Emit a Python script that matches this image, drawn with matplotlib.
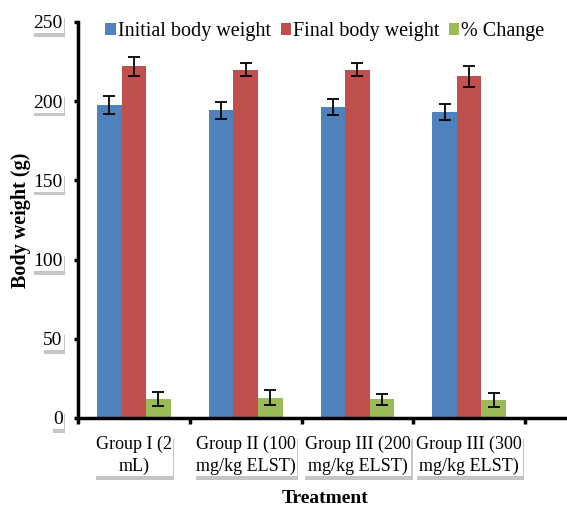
import numpy as np
import matplotlib
matplotlib.use("Agg")
import matplotlib.pyplot as plt
import matplotlib.patheffects as pe

# Données
groups = ["Group I (2\nmL)", "Group II (100\nmg/kg ELST)",
          "Group III (200\nmg/kg ELST)", "Group III (300\nmg/kg ELST)"]
initial = [197.6, 194.2, 196.3, 193.2]
initial_err = [5.4, 5.6, 4.8, 5.0]
final = [222.0, 220.0, 220.0, 215.6]
final_err = [6.0, 3.8, 4.3, 6.4]
change = [11.8, 12.8, 11.8, 11.6]
change_err = [4.4, 4.9, 3.4, 4.4]

plt.rcParams["font.family"] = ["Liberation Serif", "DejaVu Serif"]

fig = plt.figure(figsize=(5.67, 5.09), dpi=100)
ax = fig.add_axes([0.1376, 0.1788, 0.8624, 0.778])

x = np.arange(len(groups))
w = 0.22
err_kw = dict(ecolor="black", elinewidth=1.3, capsize=4, capthick=1.3)
ax.bar(x - w, initial, w, yerr=initial_err, color="#4F81BD", label="Initial body weight", error_kw=err_kw)
ax.bar(x, final, w, yerr=final_err, color="#C0504D", label="Final body weight", error_kw=err_kw)
ax.bar(x + w, change, w, yerr=change_err, color="#9BBB59", label="% Change", error_kw=err_kw)

ax.set_ylim(0, 250)
ax.set_xlim(-0.5, 3.875)
ax.set_yticks([0, 50, 100, 150, 200, 250])

# Axes
for s in ["top", "right"]:
    ax.spines[s].set_visible(False)
ax.spines["left"].set_linewidth(2.5)
ax.spines["bottom"].set_linewidth(2.5)

ax.set_xticks(x)
ax.set_xticklabels(groups, fontsize=13, linespacing=1.35)
ax.set_xticks(np.arange(-0.5, 4, 1), minor=True)
ax.tick_params(axis="x", which="major", length=0, pad=13)
ax.tick_params(axis="x", which="minor", length=4, width=2.5, direction="out")
ax.tick_params(axis="y", length=3, width=2.5, direction="out", labelsize=14, pad=8)

shadow = [pe.SimplePatchShadow(offset=(1, -2.5), shadow_rgbFace="0.5", alpha=0.45), pe.Normal()]
for lab in ax.get_xticklabels() + ax.get_yticklabels():
    lab.set_bbox(dict(boxstyle="square,pad=0.05", facecolor="white", edgecolor="none"))
    lab.get_bbox_patch().set_path_effects(shadow)

ax.set_ylabel("Body weight (g)", fontsize=14.5, fontweight="bold")
ax.yaxis.set_label_coords(-0.097, 0.5)
ax.set_xlabel("Treatment", fontsize=14, fontweight="bold")
ax.xaxis.set_label_coords(0.505, -0.183)

ax.legend(loc="center", bbox_to_anchor=(0.505, 0.975), ncol=3, frameon=False,
          fontsize=14.5, handlelength=0.5, handleheight=0.5, handletextpad=0.1,
          columnspacing=0.5, borderaxespad=0)

plt.savefig("out.png", dpi=100)
plt.close()
